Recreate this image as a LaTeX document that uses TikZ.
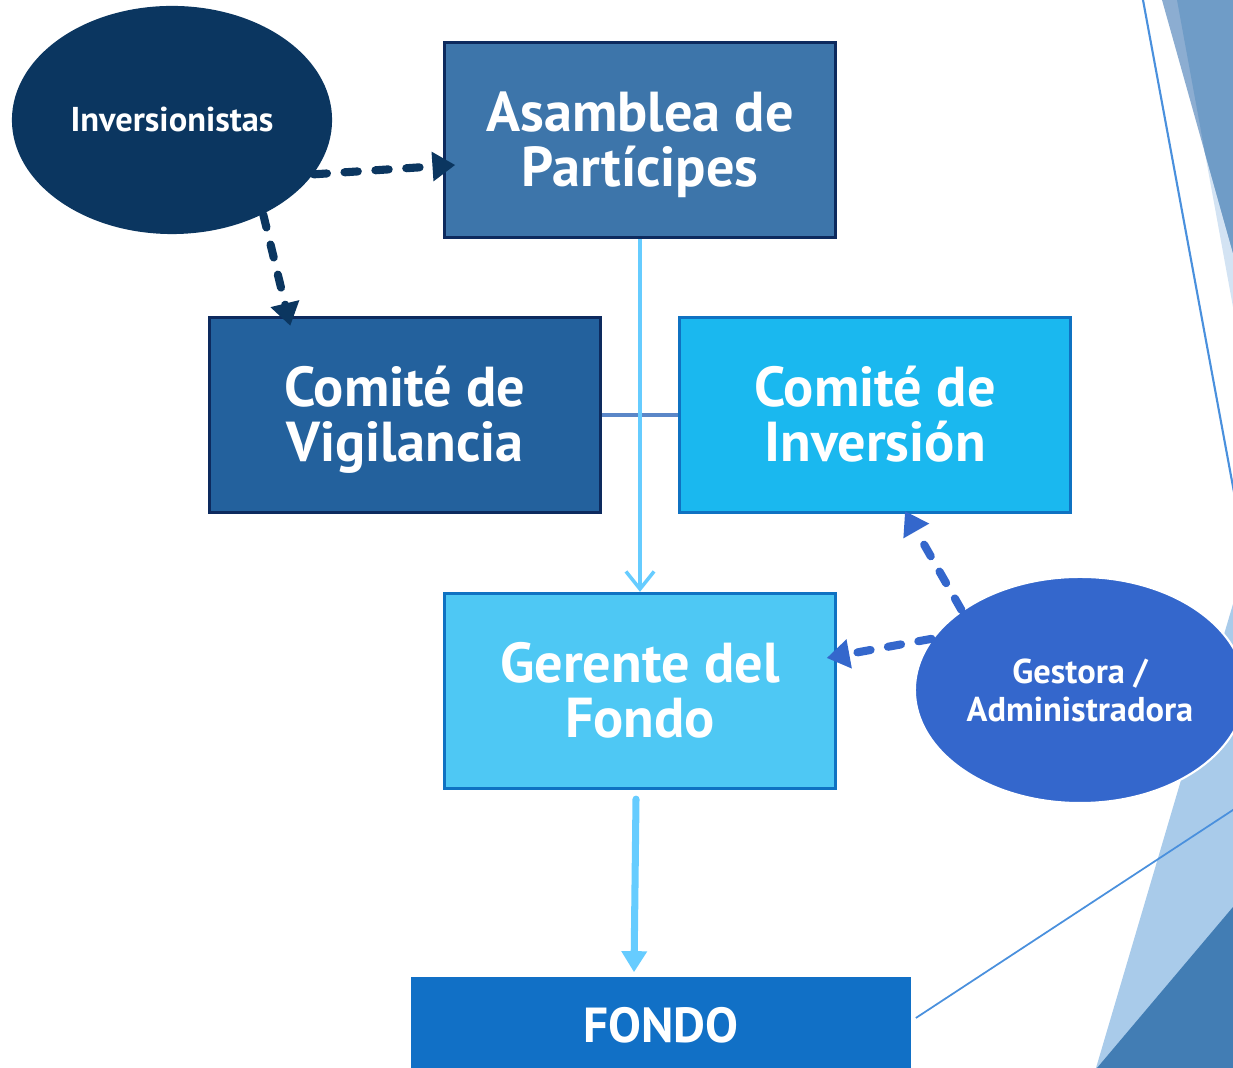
\documentclass[tikz,border=0pt]{standalone}
\usepackage{fontspec}
\setmainfont{PT Sans}
\usepackage{xcolor}
\usepackage{tikz}
\definecolor{navyblue}{HTML}{0B3660}
\definecolor{edgenavy}{HTML}{0D2A5E}
\definecolor{asmblue}{HTML}{3D75AA}
\definecolor{vigblue}{HTML}{23619D}
\definecolor{invblue}{HTML}{1AB8EF}
\definecolor{gerblue}{HTML}{4EC8F4}
\definecolor{edgecyan}{HTML}{0F72C2}
\definecolor{fondoblue}{HTML}{1170C6}
\definecolor{gestblue}{HTML}{3467CC}
\definecolor{linkcyan}{HTML}{66CCFF}
\definecolor{barblue}{HTML}{5B87C8}
\definecolor{facetlight}{HTML}{D3E3F3}
\definecolor{facetmid}{HTML}{8CADD1}
\definecolor{facetdark}{HTML}{6F9CC7}
\definecolor{facetpale}{HTML}{A9CBEA}
\definecolor{facetdeep}{HTML}{427DB4}
\definecolor{facetline}{HTML}{4A90DD}
\usetikzlibrary{shapes.geometric, arrows.meta, positioning, calc}

\tikzset{
    boxnode/.style={rectangle, line width=0.9pt, minimum width=3.9cm, minimum height=1.95cm,
          inner sep=0pt, align=center, text=white, text height=1.07cm, text depth=0.15cm,
          font=\fontsize{16pt}{15.6pt}\selectfont\bfseries},
    ovalnode/.style={ellipse, inner sep=0pt, align=center, text=white,
          font=\fontsize{9.8pt}{10.8pt}\selectfont\bfseries},
    dasharrow/.style={line width=2.3pt, dash pattern=on 3.8pt off 5pt, line cap=round,
          -{Triangle[length=6.5pt,width=8pt]}},
}

\begin{document}
\begin{tikzpicture}[x=0.01cm, y=-0.01cm]
    \useasboundingbox (0,0) rectangle (1233,1068);
    \clip (0,0) rectangle (1233,1068);

    % facets on the right
    \fill[facetlight] (1177,0) -- (1233,0) -- (1233,307) -- cycle;
    \fill[facetmid] (1162,0) -- (1233,0) -- (1233,253) -- cycle;
    \fill[facetdark] (1177,0) -- (1233,0) -- (1233,253) -- (1205,153) -- cycle;
    \fill[facetpale] (1233,604) -- (1233,1068) -- (1096,1068) -- cycle;
    \fill[facetdeep] (1233,907) -- (1233,1068) -- (1097,1068) -- cycle;
    \draw[facetline, line width=0.6pt] (1143,0) -- (1236,503);

    % nodes
    \node[ovalnode, fill=navyblue, minimum width=3.2cm, minimum height=2.28cm] (inv) at (172,120) {Inversionistas};
    \node[boxnode, fill=asmblue, draw=edgenavy] (asm) at (640,140) {Asamblea de\\Partícipes};
    \node[boxnode, fill=vigblue, draw=edgenavy] (vig) at (405,415) {Comité de\\Vigilancia};
    \node[boxnode, fill=invblue, draw=edgecyan] (cinv) at (875,415) {Comité de\\Inversión};
    \node[boxnode, fill=gerblue, draw=edgecyan] (ger) at (640,691) {Gerente del\\Fondo};
    \node[rectangle, fill=fondoblue, minimum width=5cm, minimum height=0.96cm, inner sep=0pt,
          text=white, font=\fontsize{14pt}{14pt}\selectfont\bfseries] (fondo) at (661,1025) {FONDO};
    \node[ovalnode, fill=gestblue, draw=white, line width=0.6pt,
          minimum width=3.3cm, minimum height=2.26cm] (gest) at (1080,690) {Gestora /\\Administradora};

    \draw[facetline, line width=0.5pt] ($(fondo.east)+(4,-7)$) -- (1236,808);

    % connectors
    \draw[barblue, line width=1pt] (vig.east) -- (cinv.west);
    \draw[linkcyan, line width=1pt, -{Straight Barb[length=5pt,width=8pt]}] (asm.south) -- (ger.north);
    \draw[linkcyan, line width=2pt, line cap=round, -{Triangle[length=6pt,width=7pt]}]
        ($(ger.south)+(-4,9)$) -- ($(fondo.north)+(-27,-4)$);

    \draw[dasharrow, navyblue] (inv.-21) -- ($(asm.west)+(12,25)$);
    \draw[dasharrow, navyblue] (inv.-46) -- ($(vig.north west)+(82,10)$);
    \draw[dasharrow, gestblue] (gest.146) -- ($(cinv.south)+(30,-3)$);
    \draw[dasharrow, gestblue] (gest.161) -- ($(ger.east)+(-10,-33)$);
\end{tikzpicture}
\end{document}
